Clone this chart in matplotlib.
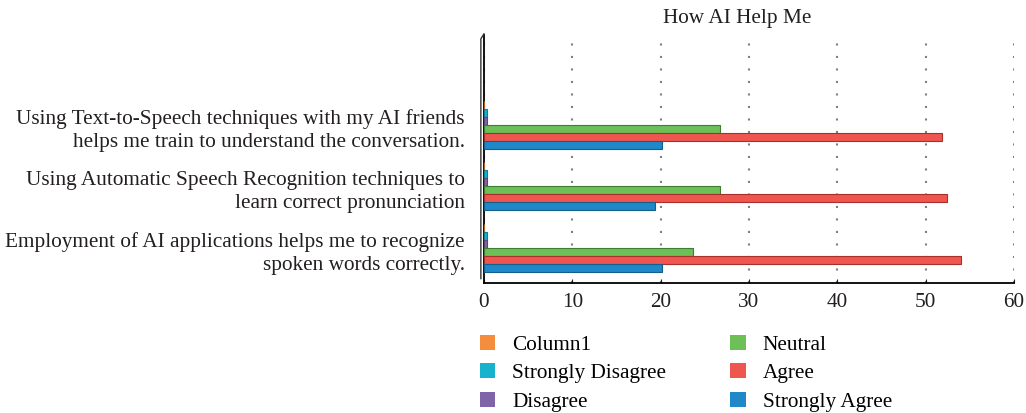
import numpy as np
import matplotlib.pyplot as plt
from matplotlib.patches import Patch

# data
categories = ['Employment of AI applications helps me to recognize\nspoken words correctly.',
              'Using Automatic Speech Recognition techniques to\nlearn correct pronunciation',
              'Using Text-to-Speech techniques with my AI friends\nhelps me train to understand the conversation.']
series = ['Column1', 'Strongly Disagree', 'Disagree', 'Neutral', 'Agree', 'Strongly Agree']
column1 = [0.0, 0.0, 0.0]
strongly_disagree = [0.3, 0.3, 0.3]
disagree = [0.3, 0.3, 0.3]
neutral = [23.7, 26.7, 26.7]
agree = [54.0, 52.4, 51.9]
strongly_agree = [20.2, 19.4, 20.2]
colors = ['#f58d3f', '#17b3cc', '#8064a8', '#6dbf58', '#ef5650', '#1f88c8']
edges = ['#b5652a', '#0e7f91', '#5a4577', '#3f7d33', '#a8302b', '#145e8c']

plt.rcParams['font.family'] = ['Liberation Serif', 'DejaVu Serif']
fs = 15.3

fig = plt.figure(figsize=(10.26, 4.13), dpi=100)
ax = fig.add_axes([0.4717, 0.315, 0.5166, 0.600])

h = 0.13
y = np.arange(len(categories))
vals = [column1, strongly_disagree, disagree, neutral, agree, strongly_agree]
# top to bottom inside each group: Column1 ... Strongly Agree
offsets = [2.5, 1.5, 0.5, -0.5, -1.5, -2.5]
for v, off, c, e in zip(vals, offsets, colors, edges):
    ax.barh(y + off * h, v, height=h, color=c, edgecolor=e, linewidth=0.8, zorder=3)

ax.set_xlim(0, 60)
ax.set_ylim(-0.57, 3.46)
ax.set_xticks(range(0, 61, 10))
ax.set_yticks(y - 0.015)
ax.set_yticklabels(categories, fontsize=fs, color='#231f20', linespacing=1.28)
ax.tick_params(axis='x', labelsize=fs, colors='#231f20', length=3, direction='in', pad=7)
ax.tick_params(axis='y', length=0, pad=14)
for t in ax.get_yticklabels():
    t.set_horizontalalignment('right')
    t.set_multialignment('right')

ax.grid(axis='x', color='#7f7f7f', linestyle=(0, (1, 5)), linewidth=1.5, zorder=0)
for s in ['top', 'right']:
    ax.spines[s].set_visible(False)
ax.spines['left'].set_linewidth(1.3)
ax.spines['bottom'].set_linewidth(1.3)
# depth wall of the 3D axis
ax.plot([-0.35, -0.35, 0.0], [-0.5, 3.40, 3.48], color='#333333', lw=1.0, clip_on=False, zorder=4)

ax.set_title('How AI Help Me', fontsize=fs, color='#231f20', pad=9, x=0.477)

handles = [Patch(facecolor=c, edgecolor='none') for c in colors]
fig.legend(handles, series, loc='upper left', bbox_to_anchor=(0.468, 0.19), ncol=2,
           frameon=False, fontsize=fs, handlelength=0.72, handleheight=0.72,
           columnspacing=3.0, labelspacing=0.4, handletextpad=0.8,
           borderpad=0, borderaxespad=0)

fig.savefig('out.png', dpi=100)
